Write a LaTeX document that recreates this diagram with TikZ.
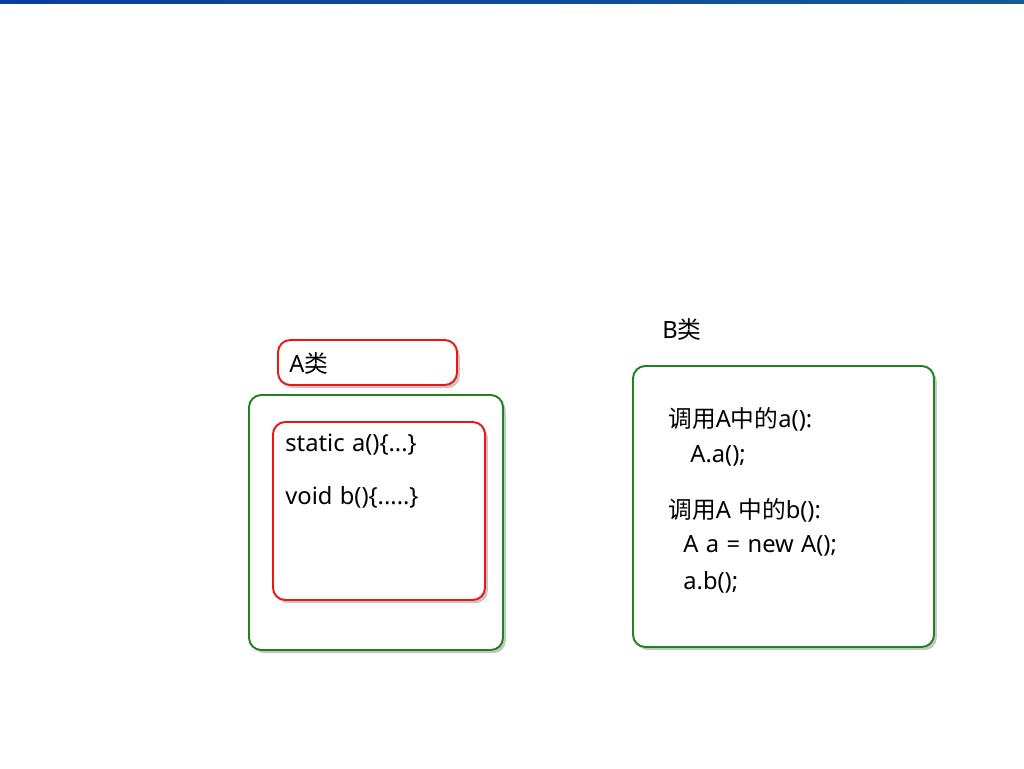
\documentclass[tikz,border=0pt]{standalone}
\usepackage{fontspec}
\setmainfont{Noto Sans}[WordSpace=1.2]
\newfontfamily\cjk{Noto Sans CJK SC}
\usetikzlibrary{shadows}

\definecolor{boxred}{RGB}{240,20,20}
\definecolor{boxgreen}{RGB}{30,130,30}
\definecolor{barblueL}{RGB}{10,60,160}
\definecolor{barblueR}{RGB}{20,90,150}

\tikzset{
  classbox/.style={draw, rounded corners=7pt, line width=1.1pt, fill=white,
    drop shadow={opacity=0.45, shadow xshift=1.6pt, shadow yshift=-1.8pt}},
  redbox/.style={classbox, draw=boxred},
  greenbox/.style={classbox, draw=boxgreen},
  code/.style={anchor=west, inner sep=0pt, font=\fontsize{13.5}{16}\selectfont}
}

\begin{document}
\begin{tikzpicture}[x=0.02cm, y=-0.02cm]
\useasboundingbox (0,0) rectangle (1024,768);
\shade[left color=barblueL, right color=barblueR] (0,0) rectangle (1024,3);

% class A
\node [redbox, minimum width=179*0.02cm, minimum height=45*0.02cm] (atitle) at (367.5,362.5) {};
\node [code] (alabel) at (289,363) {A{\cjk 类}};
\node [greenbox, minimum width=254*0.02cm, minimum height=255*0.02cm] (aouter) at (376,522.5) {};
\node [redbox, minimum width=212*0.02cm, minimum height=178*0.02cm] (ainner) at (379,511) {};
\node [code] (sa) at (285,445) {static a()\{...\}};
\node [code] (vb) at (285,497) {void b()\{.....\}};

% class B
\node [code] (blabel) at (662,329) {B{\cjk 类}};
\node [greenbox, minimum width=301*0.02cm, minimum height=281*0.02cm] (bouter) at (783.5,506.5) {};
\node [code] (l1) at (668,419) {{\cjk 调用}A{\cjk 中的}a():};
\node [code] (l2) at (690,456) {A.a();};
\node [code] (l3) at (668,510) {{\cjk 调用}A {\cjk 中的}b():};
\node [code] (l4) at (683,546) {A a = new A();};
\node [code] (l5) at (683,582) {a.b();};
\end{tikzpicture}
\end{document}
